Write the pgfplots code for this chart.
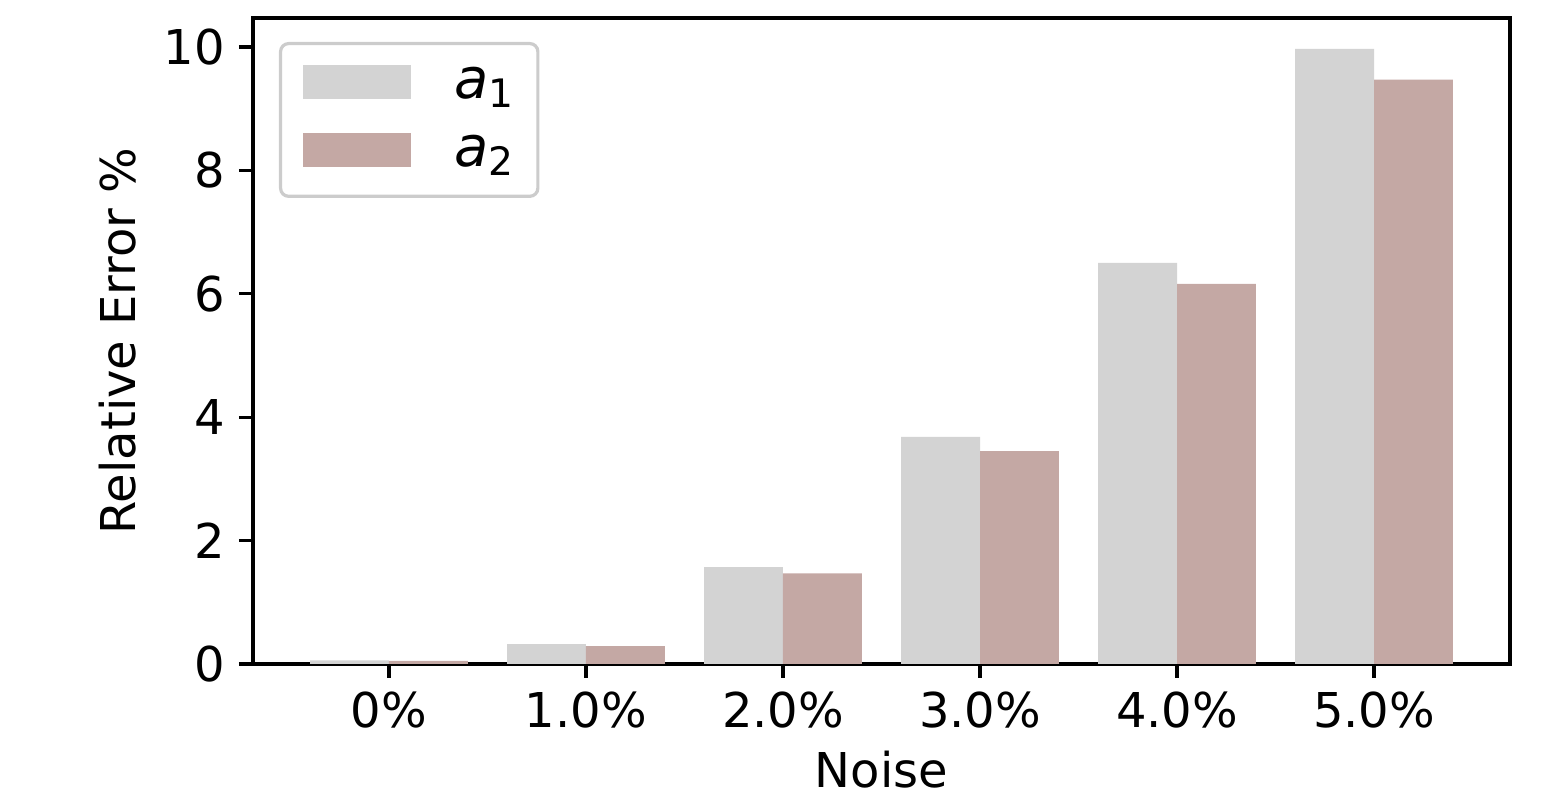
\documentclass[border=0pt]{standalone}
\usepackage{fontspec}
\setmainfont{DejaVu Sans}
\usepackage{pgfplots}
\pgfplotsset{compat=1.18}
\definecolor{cA}{HTML}{D3D3D3}
\definecolor{cB}{HTML}{C4A8A4}
\definecolor{legframe}{HTML}{CCCCCC}
\begin{document}
\begin{tikzpicture}
\begin{axis}[name=ax,
  scale only axis, width=314.25pt, height=161.5pt,
  xmin=-0.69, xmax=5.69, ymin=0, ymax=10.47,
  ybar, bar width=0.4,
  xtick={0,1,2,3,4,5},
  xticklabels={0\%,1.0\%,2.0\%,3.0\%,4.0\%,5.0\%},
  ytick={0,2,4,6,8,10},
  tick align=outside, xtick pos=bottom, ytick pos=left,
  major tick length=3.5pt,
  tick style={black, line width=0.8pt},
  axis line style={line width=0.8pt},
  /pgf/number format/assume math mode=true,
  tick label style={font=\fontsize{12}{14.4}\selectfont},
  label style={font=\fontsize{12}{14.4}\selectfont},
  xlabel={Noise}, ylabel={Relative Error \%},
  xlabel style={at={(axis description cs:0.5,0)}, anchor=center, yshift=-26.5pt},
  ylabel style={at={(axis description cs:0,0.5)}, anchor=center, rotate=0, yshift=33.75pt},
  legend image code/.code={\fill[#1, sharp corners] (0pt,-3.25pt) rectangle (27pt,5.25pt);},
  legend style={at={(axis description cs:0,1)}, anchor=north west, xshift=6.5pt, yshift=-6pt,
    draw=legframe, fill=white, rounded corners=2pt, line width=0.8pt,
    inner xsep=5.5pt, inner ysep=4pt, row sep=3.5pt,
    font=\fontsize{14}{17}\selectfont,
    nodes={inner xsep=0pt},
    /tikz/every odd column/.append style={column sep=11pt}},
  legend cell align=left,
]
\addplot[fill=cA, draw=none, bar shift=-0.2] coordinates {(0,0.06) (1,0.32) (2,1.57) (3,3.68) (4,6.50) (5,9.97)};
\addlegendentry{\textit{a}\textsubscript{1}}
\addplot[fill=cB, draw=none, bar shift=0.2] coordinates {(0,0.05) (1,0.29) (2,1.47) (3,3.45) (4,6.16) (5,9.47)};
\addlegendentry{\textit{a}\textsubscript{2}}
\end{axis}
\pgfresetboundingbox
\path ([shift={(-63.25pt,-33.25pt)}]ax.south west) rectangle ([shift={(11pt,4.5pt)}]ax.north east);
\end{tikzpicture}
\end{document}
